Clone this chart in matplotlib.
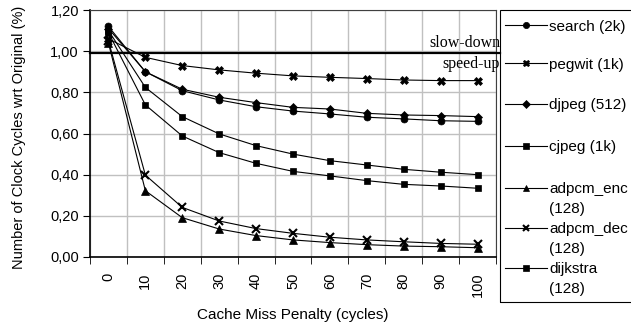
import matplotlib
matplotlib.use("Agg")
import matplotlib.pyplot as plt
from matplotlib.lines import Line2D
from matplotlib.patches import Rectangle
import matplotlib.transforms as mtransforms

plt.rcParams['font.family'] = ['Liberation Sans', 'DejaVu Sans']

penalties = ["0", "10", "20", "30", "40", "50", "60", "70", "80", "90", "100"]

search    = [1.12, 0.90, 0.808, 0.763, 0.730, 0.709, 0.695, 0.679, 0.671, 0.662, 0.659]
pegwit    = [1.06, 0.97, 0.930, 0.909, 0.893, 0.880, 0.873, 0.867, 0.860, 0.857, 0.857]
djpeg     = [1.11, 0.90, 0.815, 0.776, 0.750, 0.727, 0.719, 0.698, 0.690, 0.687, 0.682]
cjpeg     = [1.10, 0.824, 0.682, 0.598, 0.541, 0.500, 0.468, 0.447, 0.426, 0.412, 0.400]
adpcm_enc = [1.04, 0.322, 0.191, 0.136, 0.104, 0.083, 0.070, 0.060, 0.053, 0.050, 0.045]
adpcm_dec = [1.05, 0.398, 0.241, 0.175, 0.138, 0.115, 0.096, 0.083, 0.074, 0.066, 0.062]
dijkstra  = [1.09, 0.739, 0.588, 0.507, 0.455, 0.416, 0.394, 0.371, 0.353, 0.345, 0.334]

threshold = 0.99

series = [
    ("search (2k)", search, "o"),
    ("pegwit (1k)", pegwit, "X"),
    ("djpeg (512)", djpeg, "D"),
    ("cjpeg (1k)", cjpeg, "s"),
    ("adpcm_enc\n(128)", adpcm_enc, "^"),
    ("adpcm_dec\n(128)", adpcm_dec, "x"),
    ("dijkstra\n(128)", dijkstra, "s"),
]
msize = {"o": 5, "X": 5.5, "D": 4.5, "s": 5, "^": 5.5, "x": 5.5}

W, H = 631, 326
fig = plt.figure(figsize=(W / 100, H / 100), dpi=100)
ax = fig.add_axes([90 / W, 1 - 257 / H, (496 - 90) / W, (257 - 10) / H])

xs = list(range(len(penalties)))
for name, vals, m in series:
    kw = dict(markeredgewidth=1.5) if m == "x" else dict(markeredgewidth=0.5)
    ax.plot(xs, vals, color="black", lw=0.8, marker=m, markersize=msize[m],
            markerfacecolor="black", markeredgecolor="black", **kw)

ax.set_xlim(-0.5, len(penalties) - 0.5)
ax.set_ylim(0, 1.2)
ax.set_yticks([0, 0.2, 0.4, 0.6, 0.8, 1.0, 1.2])
ax.set_yticklabels(["0,00", "0,20", "0,40", "0,60", "0,80", "1,00", "1,20"], fontsize=10.5)
ax.set_xticks(xs)
ax.set_xticklabels(penalties, rotation=90, fontsize=10.5)
ax.tick_params(axis="x", which="major", length=0, pad=11)
ax.set_xticks([i - 0.5 for i in range(len(penalties) + 1)], minor=True)
ax.tick_params(axis="x", which="minor", length=5, direction="out", color="black")
ax.tick_params(axis="y", length=5, direction="out", color="black", pad=3)
ax.grid(True, axis="y", color="#c0c0c0", lw=1)
ax.grid(True, axis="x", which="minor", color="#c0c0c0", lw=1)
ax.set_axisbelow(True)
for s in ["top", "right"]:
    ax.spines[s].set_color("#404040")
for s in ["left", "bottom"]:
    ax.spines[s].set_color("black")
    ax.spines[s].set_linewidth(1.2)

trans = mtransforms.blended_transform_factory(ax.transAxes, ax.transData)
xr = (500 - 90) / (496 - 90)
ax.plot([0, xr], [threshold, threshold], color="black", lw=1.6,
        transform=trans, clip_on=False, zorder=5)
ax.text(xr, threshold + 0.012, "slow-down", transform=trans,
        ha="right", va="bottom", fontsize=11.5, family="Liberation Serif")
ax.text(xr, threshold - 0.012, "speed-up", transform=trans,
        ha="right", va="top", fontsize=11.5, family="Liberation Serif")

ax.set_ylabel("Number of Clock Cycles wrt Original (%)", fontsize=10.5, va="center")
ax.yaxis.set_label_coords(-(90 - 19) / (496 - 90), (257 - 137) / (257 - 10))
ax.set_xlabel("Cache Miss Penalty (cycles)", fontsize=11, va="center")
ax.xaxis.set_label_coords(0.5, -(315 - 257) / (257 - 10))

# legend
fig.add_artist(Rectangle((500 / W, 1 - 302 / H), (640 - 500) / W, (302 - 10) / H,
                         transform=fig.transFigure, fill=False, edgecolor="black", lw=0.8))
ys = [25, 63, 104, 146, 188, 228, 268]
for (name, vals, m), yy in zip(series, ys):
    yf = 1 - yy / H
    kw = dict(markeredgewidth=1.5) if m == "x" else dict(markeredgewidth=0.5)
    fig.add_artist(Line2D([505 / W, 547 / W], [yf, yf], transform=fig.transFigure,
                          color="black", lw=0.8))
    fig.add_artist(Line2D([526 / W], [yf], transform=fig.transFigure, color="black",
                          marker=m, markersize=msize[m] * 0.9, markerfacecolor="black",
                          markeredgecolor="black", linestyle="none", **kw))
    for k, line in enumerate(name.split("\n")):
        fig.text(549 / W, 1 - (yy + 5.5 + 20 * k) / H, line, fontsize=11,
                 va="baseline", ha="left", transform=fig.transFigure)

fig.savefig("out.png", dpi=100)
